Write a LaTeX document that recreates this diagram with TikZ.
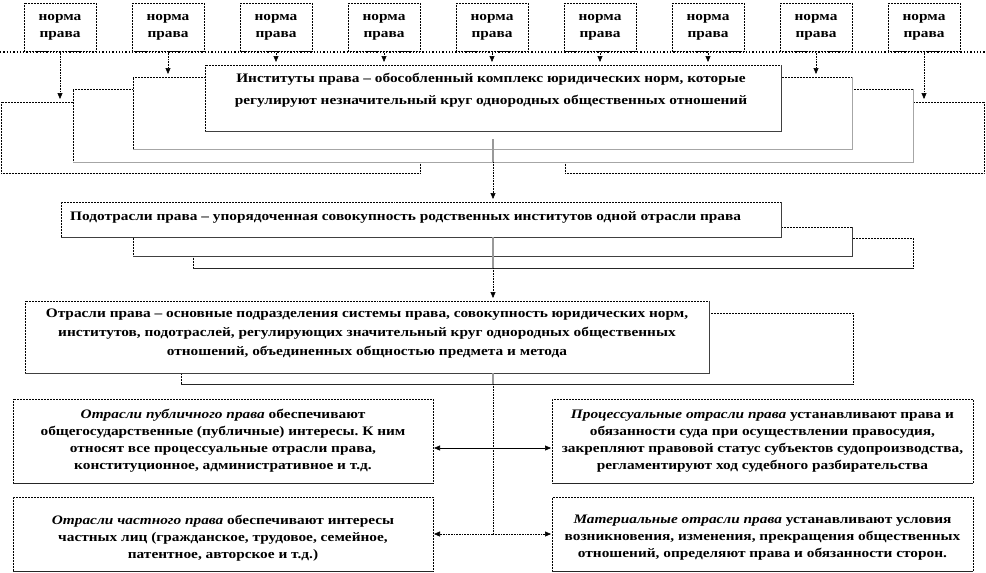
\documentclass[tikz,border=0pt]{standalone}
\usepackage{fontspec}
\setmainfont{Liberation Serif}[FakeStretch=1.18]
\usetikzlibrary{arrows.meta}
\frenchspacing
\begin{document}
\begin{tikzpicture}[x=1pt,y=-1pt,
  bx/.style={draw=black, densely dotted, line width=0.5pt, fill=white, inner sep=0pt, outer sep=0pt, anchor=north west},
  nbox/.style={draw=black, densely dotted, line width=0.5pt, fill=white, inner sep=0pt, outer sep=0pt,
     minimum width=72pt, minimum height=48pt, align=center, font=\fontsize{13}{17}\selectfont\bfseries},
  shRB/.style={draw=black!75, solid, line width=0.9pt},
  shB/.style={draw=black!85, solid, line width=0.8pt},
  txt/.style={inner sep=0pt, align=center, font=\fontsize{13}{17}\selectfont\bfseries},
  conn/.style={densely dotted, line width=0.6pt, -{Triangle[width=5pt,length=6pt]}, shorten >=3pt},
  sconn/.style={solid, line width=0.6pt, -{Triangle[width=5pt,length=6pt]}, shorten >=1pt},
  gseg/.style={draw=gray!80, solid, line width=1.4pt},
]
\useasboundingbox (0,0) rectangle (986,573);

% norm boxes
\foreach \i in {0,...,8}{
  \node[nbox] (n\i) at (60+108*\i, 27) {норма\\права};
}
\coordinate (hl) at (0,52);
\coordinate (hr) at (986,52);
\draw[dotted, line width=1.3pt] (hl) -- (hr);

% institutes stack
\node[bx, minimum width=983pt, minimum height=71pt] (inst4) at (1,102) {};
\fill[white] (420.5,162.6) rectangle (564.5,176);
\draw[densely dotted, line width=0.5pt] (420,162) -- (420,173) (565,162) -- (565,173);
\node[bx, minimum width=840pt, minimum height=73pt] (inst3) at (73,89) {};
\draw[shRB, draw=gray!70] (inst3.north east) -- (inst3.south east) -- (inst3.south west);
\node[bx, minimum width=719pt, minimum height=72pt] (inst2) at (133,77) {};
\draw[shRB, draw=gray!70] (inst2.north east) -- (inst2.south east) -- (inst2.south west);
\node[bx, minimum width=576pt, minimum height=66pt] (inst1) at (205,65) {};
\draw[shRB] (inst1.north east) -- (inst1.south east) -- (inst1.south west);
\node[txt, font=\fontsize{13}{22}\selectfont\bfseries] (tinst) at (491,90)
  {Институты права – обособленный комплекс юридических норм, которые\\
   регулируют  незначительный круг однородных общественных  отношений};

% arrows from norms
\foreach \i/\t in {0/inst4,1/inst2,2/inst1,3/inst1,4/inst1,5/inst1,6/inst1,7/inst2,8/inst4}{
  \draw[conn] (n\i.south) -- (n\i.south |- \t.north);
}

% sub-branches stack
\node[bx, minimum width=720pt, minimum height=30pt] (sub3) at (193,238) {};
\draw[shB] (sub3.south east) -- (sub3.south west);
\node[bx, minimum width=719pt, minimum height=29pt] (sub2) at (133,227) {};
\draw[shRB] (sub2.north east) -- (sub2.south east) -- (sub2.south west);
\node[bx, minimum width=720pt, minimum height=35pt] (sub1) at (61,202) {};
\draw[shRB] (sub1.north east) -- (sub1.south east) -- (sub1.south west);
\node[txt, anchor=west] (tsub) at (70,217)
  {Подотрасли  права – упорядоченная совокупность родственных институтов одной  отрасли права};

% branches stack
\node[bx, minimum width=672pt, minimum height=71pt] (otr2) at (181,313) {};
\draw[shB] (otr2.south east) -- (otr2.south west);
\node[bx, minimum width=684pt, minimum height=72pt] (otr1) at (25,301) {};
\draw[shRB] (otr1.north east) -- (otr1.south east) -- (otr1.south west);
\node[txt, font=\fontsize{13}{19}\selectfont\bfseries] (totr) at (367,334)
  {Отрасли  права – основные подразделения системы права, совокупность юридических норм,\\
   институтов, подотраслей, регулирующих  значительный круг однородных общественных\\
   отношений, объединенных общностью предмета и метода};

% vertical connectors
\draw[gseg] ([yshift=-8pt]inst1.south) -- (inst1.south |- inst3.south);
\draw[conn] (inst1.south |- inst3.south) -- (inst1.south |- sub1.north);
\draw[gseg] (inst1.south |- sub1.south) -- (inst1.south |- sub3.south);
\draw[conn] (inst1.south |- sub3.south) -- (inst1.south |- otr1.north);
\draw[gseg] (inst1.south |- otr1.south) -- (inst1.south |- otr2.south);

% lower boxes
\node[bx, minimum width=420pt, minimum height=84pt] (pub) at (13,399) {};
\draw[shB] (pub.south east) -- (pub.south west);
\node[bx, minimum width=421pt, minimum height=84pt] (proc) at (552,399) {};
\draw[shB] (proc.south east) -- (proc.south west);
\node[bx, minimum width=420pt, minimum height=74pt] (priv) at (13,497) {};
\draw[shB] (priv.south east) -- (priv.south west);
\node[bx, minimum width=421pt, minimum height=74pt] (mat) at (552,497) {};
\draw[shB] (mat.south east) -- (mat.south west);

\node[txt] (tpub) at (pub.center)
  {\textit{Отрасли публичного права}  обеспечивают\\
   общегосударственные  (публичные) интересы. К ним\\
   относят все процессуальные отрасли права,\\
   конституционное, административное и т.д.};
\node[txt] (tproc) at (proc.center)
  {\textit{Процессуальные отрасли права} устанавливают права и\\
   обязанности суда при осуществлении правосудия,\\
   закрепляют правовой статус субъектов  судопроизводства,\\
   регламентируют ход судебного  разбирательства};
\node[txt] (tpriv) at ([yshift=-4pt]priv.center)
  {\textit{Отрасли частного права} обеспечивают интересы\\
   частных лиц (гражданское, трудовое, семейное,\\
   патентное, авторское и т.д.)};
\node[txt] (tmat) at ([yshift=-4pt]mat.center)
  {\textit{Материальные отрасли права}   устанавливают условия\\
   возникновения, изменения, прекращения общественных\\
   отношений, определяют права и обязанности сторон.};

\coordinate (j1) at (inst1.south |- 0,448);
\coordinate (j2) at (inst1.south |- 0,534);
\draw[densely dotted, line width=0.6pt] (inst1.south |- otr2.south) -- (j2);
\draw[sconn] (j1) -- (pub.east |- j1);
\draw[sconn] (j1) -- (proc.west |- j1);
\draw[conn, shorten >=1pt] (j2) -- (priv.east |- j2);
\draw[conn, shorten >=1pt] (j2) -- (mat.west |- j2);
\end{tikzpicture}
\end{document}
